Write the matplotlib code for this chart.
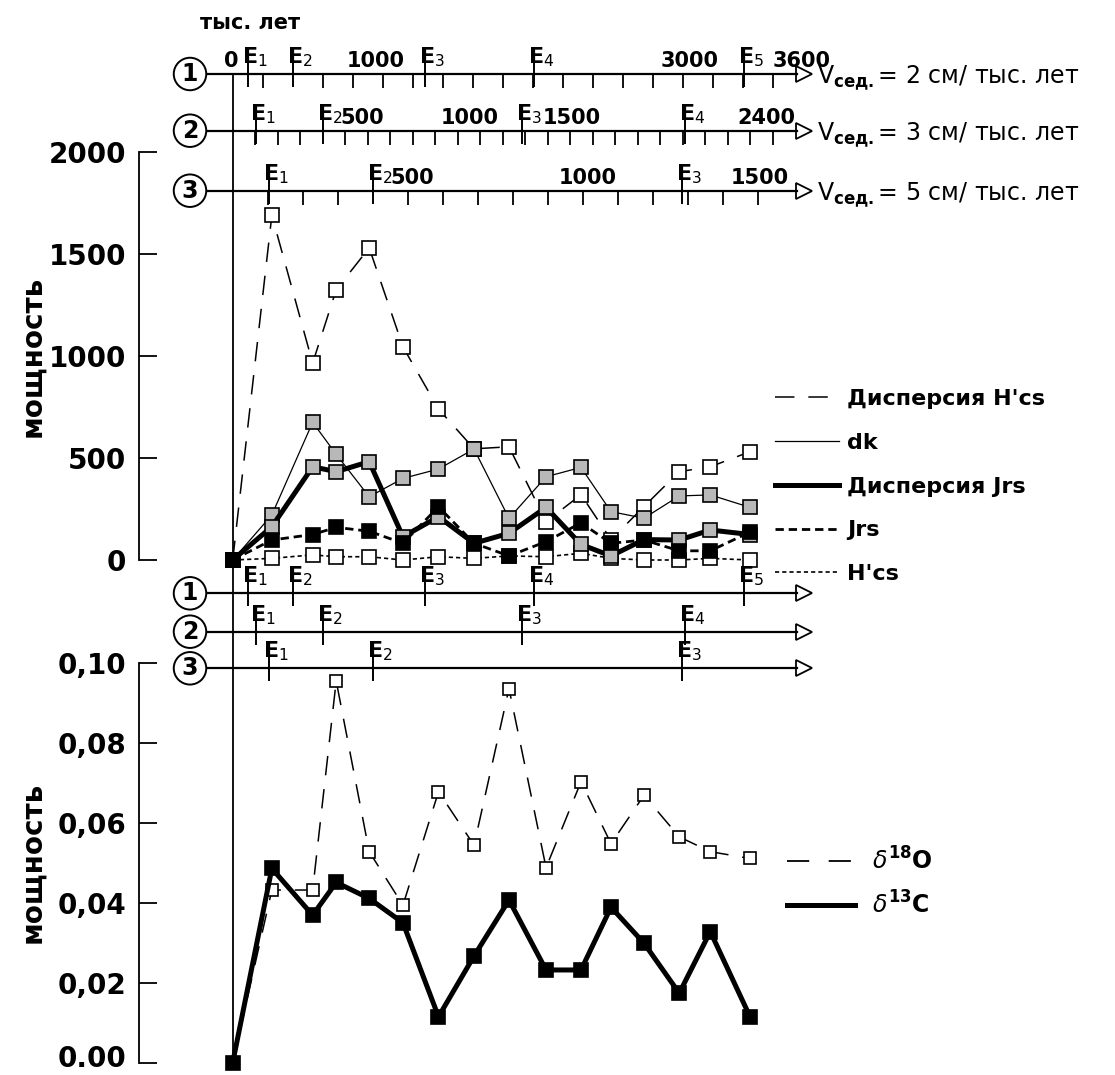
import numpy as np
import matplotlib
matplotlib.use("Agg")
import matplotlib.pyplot as plt
from matplotlib.ticker import FixedLocator, NullLocator
from matplotlib.lines import Line2D
import matplotlib.transforms as mtransforms

plt.rcParams['font.family'] = ['DejaVu Sans']
plt.rcParams['lines.scale_dashes'] = False
plt.rcParams['mathtext.fontset'] = 'dejavusans'

# ---------------- data ----------------
# sample positions, thousand years on the Vсед = 2 cm/kyr scale
age_kyr = [0, 261, 533, 690, 910, 1135, 1372, 1609, 1842, 2089, 2322, 2522, 2742, 2977, 3184, 3449]

disp_hcs = [0, 1690, 965, 1325, 1530, 1045, 740, 545, 555, 188, 320, 100, 262, 433, 457, 531]
dk       = [0, 221, 675, 518, 310, 400, 446, 544, 204, 408, 454, 237, 205, 314, 319, 258]
disp_jrs = [0, 163, 457, 433, 482, 114, 212, 82, 131, 258, 76, 20, 100, 98, 147, 125]
jrs      = [0, 98, 125, 160, 141, 82, 261, 82, 20, 90, 182, 82, 98, 45, 45, 137]
hcs      = [0, 8, 25, 16, 16, 0, 16, 8, 20, 16, 33, 8, 0, 0, 8, 0]

d18o = [0, 0.0432, 0.0432, 0.0955, 0.0528, 0.0394, 0.0678, 0.0544, 0.0936,
        0.0488, 0.0703, 0.0548, 0.0669, 0.0565, 0.0528, 0.0511]
d13c = [0, 0.0486, 0.0369, 0.0451, 0.0411, 0.0350, 0.0115, 0.0267, 0.0407,
        0.0232, 0.0232, 0.0389, 0.0299, 0.0174, 0.0328, 0.0115]

upper_yticks = [0, 500, 1000, 1500, 2000]
upper_yticklabels = ['0', '500', '1000', '1500', '2000']
lower_yticks = [0, 0.02, 0.04, 0.06, 0.08, 0.10]
lower_yticklabels = ['0.00', '0,02', '0,04', '0,06', '0,08', '0,10']

scale_names = ['1', '2', '3']
sed_rates = [2, 3, 5]
scale_numbers = [[0, 1000, 3000, 3600], [500, 1000, 1500, 2400], [500, 1000, 1500]]
scale_minor_step = [200, 100, 100]
scale_minor_end = [3600, 2400, 1500]
event_ages = [105, 400, 1285, 2010, 3410]
event_names = ['1', '2', '3', '4', '5']

upper_labels = ["Дисперсия H'cs", 'dk', 'Дисперсия Jrs', 'Jrs', "H'cs"]
lower_labels = [r'$\delta^{\mathbf{18}}$O', r'$\delta^{\mathbf{13}}$C']

# ---------------- layout ----------------
W, H = 1115, 1075
fig = plt.figure(figsize=(W / 100, H / 100), dpi=100)

AX_L, AX_R = 139, 830
X0 = 232.7                      # pixel of time zero
AXIS_PX = [0.15, 0.225, 0.35]   # drawn pixels per kyr on scales 1, 2, 3
NUM_DX = [[6, -7, 7, 0], [17, 12, 2, -6], [4, 5, 2]]   # label nudges (pixels)
LINE_START, LINE_END = 205, 797


def fx(px):
    return px / W


def fy(py):
    return 1 - py / H


xlim_main = ((AX_L - X0) / AXIS_PX[0], (AX_R - X0) / AXIS_PX[0])

ax_u = fig.add_axes([fx(AX_L), fy(560), (AX_R - AX_L) / W, (560 - 152) / H])
ax_l = fig.add_axes([fx(AX_L), fy(1062.7), (AX_R - AX_L) / W, (1062.7 - 663) / H])

for ax, yt, ytl, ylim in [(ax_u, upper_yticks, upper_yticklabels, (0, 2000)),
                          (ax_l, lower_yticks, lower_yticklabels, (0, 0.10))]:
    ax.set_xlim(*xlim_main)
    ax.set_ylim(*ylim)
    ax.patch.set_visible(False)
    for s in ['top', 'right', 'bottom']:
        ax.spines[s].set_visible(False)
    ax.spines['left'].set_bounds(*ylim)
    ax.spines['left'].set_linewidth(1.3)
    ax.set_xticks([])
    ax.set_yticks(yt, ytl)
    ax.tick_params(axis='y', direction='in', length=13, width=1.3, pad=9, labelsize=20)
    for t in ax.get_yticklabels():
        t.set_fontweight('bold')
    ax.set_ylabel('мощность', fontsize=20, fontweight='bold')
    ax.yaxis.set_label_coords((46 - AX_L) / (AX_R - AX_L), 0.5)

# keep the lowest tick label inside the picture
lab0 = ax_l.get_yticklabels()[0]
lab0.set_transform(lab0.get_transform() +
                   mtransforms.ScaledTranslation(0, 7 / 100, fig.dpi_scale_trans))

# vertical zero line through both panels
trans = mtransforms.blended_transform_factory(ax_u.transData, fig.transFigure)
fig.add_artist(Line2D([0, 0], [fy(74), fy(1062.7)], transform=trans, color='k', lw=1.3))

# ---------------- upper panel series ----------------
grey = '#b8b8b8'
ms = 9.5
ax_u.plot(age_kyr, disp_hcs, color='k', lw=1.1, dashes=(14, 10), marker='s', ms=ms,
          mfc='white', mec='k', mew=1.2, clip_on=False, zorder=3)
ax_u.plot(age_kyr, dk, color='k', lw=0.9, marker='s', ms=ms,
          mfc=grey, mec='k', mew=1.2, clip_on=False, zorder=4)
ax_u.plot(age_kyr, hcs, color='k', lw=1.2, dashes=(3, 2.2), marker='s', ms=ms,
          mfc='white', mec='k', mew=1.2, clip_on=False, zorder=5)
ax_u.plot(age_kyr, disp_jrs, color='k', lw=3.6, marker='s', ms=ms,
          mfc=grey, mec='k', mew=1.2, clip_on=False, zorder=6)
ax_u.plot(age_kyr, jrs, color='k', lw=2.0, dashes=(6, 3.5), marker='s', ms=ms,
          mfc='k', mec='k', mew=1.2, clip_on=False, zorder=7)

h_u = [Line2D([], [], color='k', lw=1.1, dashes=(14, 10)),
       Line2D([], [], color='k', lw=0.9),
       Line2D([], [], color='k', lw=3.6),
       Line2D([], [], color='k', lw=2.0, dashes=(6, 3.5)),
       Line2D([], [], color='k', lw=1.2, dashes=(3, 2.2))]
ax_u.legend(h_u, upper_labels, loc='upper left', bbox_to_anchor=(fx(775), fy(389)),
            bbox_transform=fig.transFigure, frameon=False, borderpad=0, borderaxespad=0,
            handlelength=2.9, handletextpad=0.36, labelspacing=1.07,
            prop={'weight': 'bold', 'size': 16})

# ---------------- lower panel series ----------------
ax_l.plot(age_kyr, d18o, color='k', lw=1.1, dashes=(14, 10), marker='s', ms=8.5,
          mfc='white', mec='k', mew=1.2, clip_on=False, zorder=3)
ax_l.plot(age_kyr, d13c, color='k', lw=3.6, marker='s', ms=10,
          mfc='k', mec='k', mew=1.2, clip_on=False, zorder=4)

h_l = [Line2D([], [], color='k', lw=1.3, dashes=(16, 14)),
       Line2D([], [], color='k', lw=3.6)]
ax_l.legend(h_l, lower_labels, loc='upper left', bbox_to_anchor=(fx(787), fy(847)),
            bbox_transform=fig.transFigure, frameon=False, borderpad=0, borderaxespad=0,
            handlelength=2.9, handletextpad=0.72, labelspacing=0.72,
            prop={'weight': 'bold', 'size': 17})


# ---------------- time scales ----------------
def time_axis(py, k, top):
    pxk = AXIS_PX[k]
    tax = fig.add_axes([fx(AX_L), fy(py), (AX_R - AX_L) / W, 0.0005])
    tax.set_xlim((AX_L - X0) / pxk, (AX_R - X0) / pxk)
    tax.set_ylim(0, 1)
    tax.patch.set_visible(False)
    for s in ['top', 'right', 'left']:
        tax.spines[s].set_visible(False)
    start, end = (LINE_START - X0) / pxk, (LINE_END - X0) / pxk
    tax.spines['bottom'].set_bounds(start, end)
    tax.spines['bottom'].set_linewidth(1.6)
    tax.set_yticks([])
    ev = [(a, n) for a, n in zip(event_ages, event_names) if a < end]
    tax.xaxis.set_major_locator(FixedLocator([a for a, _ in ev]))
    if top:
        step = scale_minor_step[k]
        tax.xaxis.set_minor_locator(FixedLocator(
            np.arange(step, scale_minor_end[k] + 1, step)))
    else:
        tax.xaxis.set_minor_locator(NullLocator())
    tax.tick_params(which='major', direction='inout', length=18, width=1.4,
                    labelbottom=False)
    tax.tick_params(which='minor', direction='out', length=10, width=1.3)
    for a, n in ev:
        tax.annotate(r'$\mathbf{E}_{%s}$' % n, xy=(a, 0), xycoords='data',
                     xytext=(-6, 5), textcoords='offset pixels',
                     ha='left', va='bottom', fontsize=16)
    # arrow head
    tax.plot([(LINE_END + 7 - X0) / pxk], [0], marker='>', ms=11, mfc='white',
             mec='k', mew=1.3, clip_on=False)
    # circled scale number
    fig.text(fx(190), fy(py), scale_names[k], ha='center', va='center',
             fontsize=17, fontweight='bold',
             bbox=dict(boxstyle='circle,pad=0.18', fc='white', ec='k', lw=1.4))
    if top:
        nums = scale_numbers[k]
        for i, v in enumerate(nums):
            if v == 0:
                ha = 'right'
            elif k == 0 and v == nums[-1]:
                ha = 'left'
            else:
                ha = 'center'
            tax.annotate(str(v), xy=(v, 0), xycoords='data',
                         xytext=(NUM_DX[k][i], 3), textcoords='offset pixels',
                         ha=ha, va='bottom', fontsize=15, fontweight='bold')
        tax.annotate(r'V$_{\mathbf{сед.}}$= %d см/ тыс. лет' % sed_rates[k],
                     xy=(end, 0), xycoords='data', xytext=(20, -4),
                     textcoords='offset pixels', ha='left', va='center',
                     fontsize=17)
    return tax


for k, py in enumerate([74, 130.7, 190.7]):
    time_axis(py, k, True)
for k, py in enumerate([593.3, 631.7, 668.3]):
    time_axis(py, k, False)

fig.text(fx(250), fy(23), 'тыс. лет', ha='center', va='center',
         fontsize=15, fontweight='bold')

fig.savefig('out.png', dpi=100)
